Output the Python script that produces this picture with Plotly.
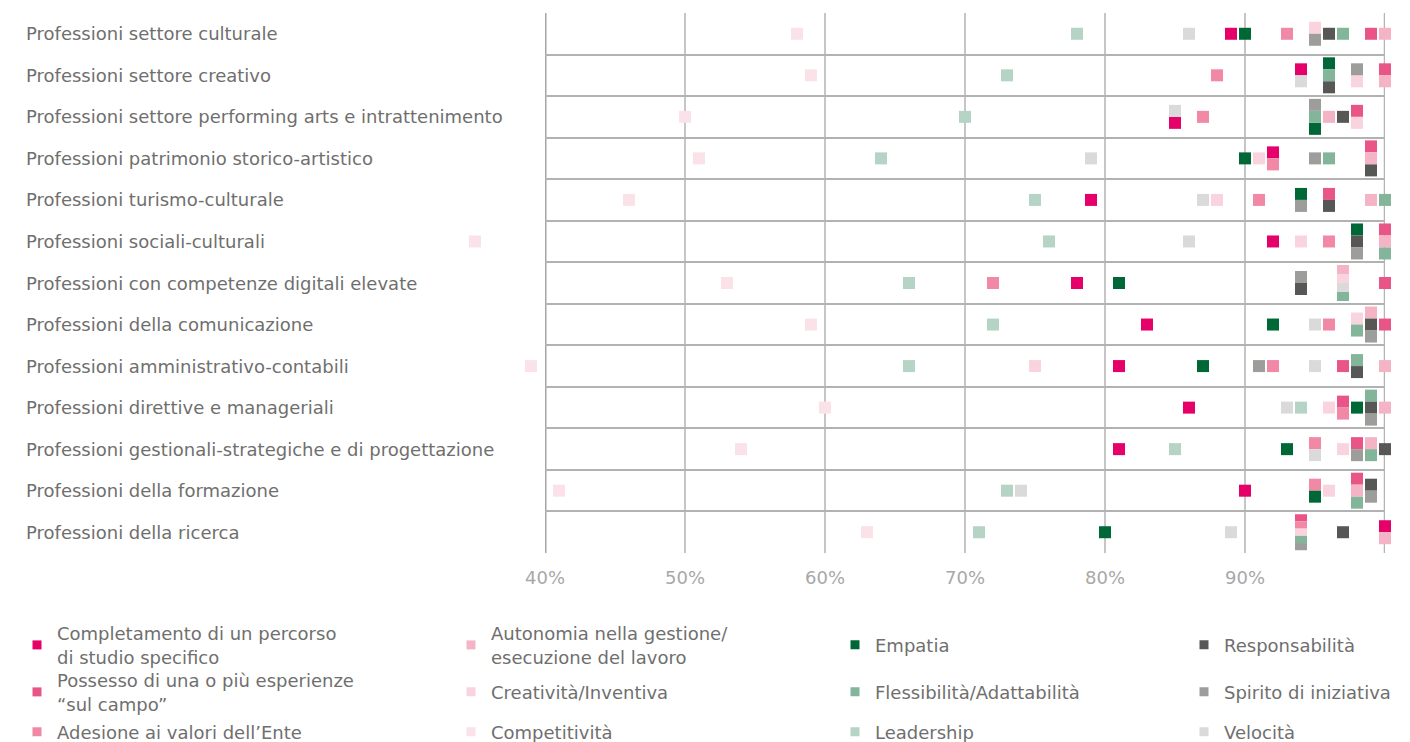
import plotly.graph_objects as go

# --- Categorie (righe) ---
professioni = [
    "Professioni settore culturale",
    "Professioni settore creativo",
    "Professioni settore performing arts e intrattenimento",
    "Professioni patrimonio storico-artistico",
    "Professioni turismo-culturale",
    "Professioni sociali-culturali",
    "Professioni con competenze digitali elevate",
    "Professioni della comunicazione",
    "Professioni amministrativo-contabili",
    "Professioni direttive e manageriali",
    "Professioni gestionali-strategiche e di progettazione",
    "Professioni della formazione",
    "Professioni della ricerca",
]

# --- Valori (%) per competenza, nello stesso ordine delle righe ---
completamento = [89, 94, 85, 92, 79, 92, 78, 83, 81, 86, 81, 90, 100]
possesso = [99, 100, 98, 99, 96, 100, 100, 100, 97, 97, 98, 98, 94]
adesione = [93, 88, 87, 92, 91, 96, 72, 96, 92, 97, 95, 95, 94]
autonomia = [100, 100, 96, 99, 99, 100, 97, 99, 100, 100, 99, 98, 100]
creativita = [95, 98, 98, 91, 88, 94, 97, 98, 75, 96, 97, 96, 94]
competitivita = [58, 59, 50, 51, 46, 35, 53, 59, 39, 60, 54, 41, 63]
empatia = [90, 96, 95, 90, 94, 98, 81, 92, 87, 98, 93, 95, 80]
flessibilita = [97, 96, 95, 96, 100, 100, 97, 98, 98, 99, 99, 98, 94]
leadership = [78, 73, 70, 64, 75, 76, 66, 72, 66, 94, 85, 73, 71]
responsabilita = [96, 96, 97, 99, 96, 98, 94, 99, 98, 99, 100, 99, 97]
spirito = [95, 98, 95, 95, 94, 98, 94, 99, 91, 99, 98, 99, 94]
velocita = [86, 94, 85, 79, 87, 86, 97, 95, 95, 93, 95, 74, 89]

# --- Tick asse x ---
x_tick_vals = [40, 50, 60, 70, 80, 90, 100]
x_tick_text = ["40%", "50%", "60%", "70%", "80%", "90%", "100%"]

# key, etichetta legenda, valori, colore
serie = [
    ("COMP", "Completamento di un percorso<br>di studio specifico", completamento, "#E6006A"),
    ("POSS", "Possesso di una o più esperienze<br>“sul campo”", possesso, "#EA5587"),
    ("ADES", "Adesione ai valori dell’Ente", adesione, "#F088A6"),
    ("AUTO", "Autonomia nella gestione/<br>esecuzione del lavoro", autonomia, "#F5B4C6"),
    ("CREA", "Creatività/Inventiva", creativita, "#F9D3DE"),
    ("CPTV", "Competitività", competitivita, "#FBE2E9"),
    ("EMPA", "Empatia", empatia, "#006837"),
    ("FLES", "Flessibilità/Adattabilità", flessibilita, "#82B59A"),
    ("LEAD", "Leadership", leadership, "#B5D4C5"),
    ("RESP", "Responsabilità", responsabilita, "#575756"),
    ("SPIR", "Spirito di iniziativa", spirito, "#9D9D9C"),
    ("VELO", "Velocità", velocita, "#DADADA"),
]

# ordine (dall'alto in basso) delle celle che condividono riga e valore
ordine_pile = {
    (0, 95): ["CREA", "SPIR"],
    (1, 94): ["COMP", "VELO"],
    (1, 96): ["EMPA", "FLES", "RESP"],
    (1, 98): ["SPIR", "CREA"],
    (1, 100): ["POSS", "AUTO"],
    (2, 85): ["VELO", "COMP"],
    (2, 95): ["SPIR", "FLES", "EMPA"],
    (2, 98): ["POSS", "CREA"],
    (3, 92): ["COMP", "ADES"],
    (3, 99): ["POSS", "AUTO", "RESP"],
    (4, 94): ["EMPA", "SPIR"],
    (4, 96): ["POSS", "RESP"],
    (5, 98): ["EMPA", "RESP", "SPIR"],
    (5, 100): ["POSS", "AUTO", "FLES"],
    (6, 94): ["SPIR", "RESP"],
    (6, 97): ["AUTO", "CREA", "VELO", "FLES"],
    (7, 98): ["CREA", "FLES"],
    (7, 99): ["AUTO", "RESP", "SPIR"],
    (8, 98): ["FLES", "RESP"],
    (9, 97): ["POSS", "ADES"],
    (9, 99): ["FLES", "RESP", "SPIR"],
    (10, 95): ["ADES", "VELO"],
    (10, 98): ["POSS", "SPIR"],
    (10, 99): ["AUTO", "FLES"],
    (11, 95): ["ADES", "EMPA"],
    (11, 98): ["POSS", "AUTO", "FLES"],
    (11, 99): ["RESP", "SPIR"],
    (12, 94): ["POSS", "ADES", "CREA", "FLES", "SPIR"],
    (12, 100): ["COMP", "AUTO"],
}

# --- Geometria (pixel) ---
W, H = 1410, 742
M_R, M_T, M_B = 25, 13, 189
AXIS_LEFT = 545                     # posizione del 40%
area_w = W - M_R                    # area di disegno a partire da x=0
plot_h = H - M_T - M_B
X_MIN, X_MAX = 40, 100
px_per_x = (area_w - AXIS_LEFT) / (X_MAX - X_MIN)
n_rows = len(professioni)
px_per_row = plot_h / n_rows
y_range = [n_rows - 0.5, -0.5]

CELL_PX = 12          # larghezza della cella
STACK_MAX_PX = 36     # altezza massima di una pila

TEXT = "#6F6F6E"
FONT = "DejaVu Sans"
FONT_SIZE = 18

# raggruppa le celle con stesso valore nella stessa riga
gruppi = {}
for key, _, vals, _ in serie:
    for r, v in enumerate(vals):
        gruppi.setdefault((r, v), []).append(key)


def posizione(key, r, v):
    membri = ordine_pile.get((r, v), gruppi[(r, v)])
    if sorted(membri) != sorted(gruppi[(r, v)]):
        membri = gruppi[(r, v)]
    n = len(membri)
    h = min(CELL_PX, STACK_MAX_PX / n)
    i = membri.index(key)
    off_px = (i - (n - 1) / 2) * h
    return r + off_px / px_per_row, h


fig = go.Figure()

# celle: segmenti orizzontali larghi CELL_PX, spessi quanto la loro quota di pila.
# Sono disegnate su assi gemelli (x2/y2) che coprono anche lo spazio a sinistra del 40%,
# cosi' anche i valori sotto il 40% restano visibili.
for key, label, vals, color in serie:
    ys, hs = [], []
    for r, v in enumerate(vals):
        y, h = posizione(key, r, v)
        ys.append(y)
        hs.append(h)
    fig.add_trace(go.Scatter(
        x=vals, y=ys, mode="markers",
        xaxis="x2", yaxis="y2",
        marker=dict(symbol="line-ew", size=CELL_PX / 1.4,
                    line=dict(color=color, width=hs)),
        cliponaxis=False,
        showlegend=False,
        name=label.replace("<br>", " "),
        hovertemplate="%{x}%<extra></extra>",
    ))

# legenda: 4 colonne x 3 righe (una legenda per voce)
leg_text_px = [57, 491, 875, 1224]
leg_row_px = [645, 692, 732]
layout_legends = {}
for idx, (key, label, vals, color) in enumerate(serie):
    col, row = divmod(idx, 3)
    lname = "legend" if idx == 0 else f"legend{idx + 1}"
    fig.add_trace(go.Scatter(
        x=[None], y=[None], mode="markers",
        marker=dict(symbol="square", size=9, color=color),
        name=label, legend=lname, showlegend=True, hoverinfo="skip",
    ))
    lx = leg_text_px[col] - 40
    ly = leg_row_px[row]
    layout_legends[lname] = dict(
        x=lx / area_w,
        y=(H - M_B - ly) / plot_h,
        xanchor="left", yanchor="middle",
        bgcolor="rgba(0,0,0,0)",
        font=dict(family=FONT, size=FONT_SIZE, color=TEXT),
        itemwidth=30,
        tracegroupgap=0,
    )

# etichette delle righe, allineate a sinistra
annotations = []
for r, name in enumerate(professioni):
    annotations.append(dict(
        x=24 / area_w, xref="paper", xanchor="left",
        y=r, yref="y", yanchor="middle",
        text=name, showarrow=False,
        font=dict(family=FONT, size=FONT_SIZE, color=TEXT),
    ))

# linee di bordo a 40% e 100%, centrate sui rispettivi valori
bordi = [
    dict(type="line", xref="x", yref="y", x0=X_MIN, x1=X_MIN,
         y0=y_range[0], y1=y_range[1], layer="below",
         line=dict(color="#A6A6A6", width=3)),
    dict(type="line", xref="x", yref="y", x0=X_MAX, x1=X_MAX,
         y0=y_range[0], y1=y_range[1], layer="below",
         line=dict(color="#B4B4B4", width=2.5)),
]

fig.update_layout(
    width=W, height=H,
    margin=dict(l=0, r=M_R, t=M_T, b=M_B, autoexpand=False),
    paper_bgcolor="white", plot_bgcolor="rgba(0,0,0,0)",
    annotations=annotations,
    shapes=bordi,
    font=dict(family=FONT, color=TEXT),
    xaxis=dict(
        domain=[AXIS_LEFT / area_w, 1], anchor="y",
        range=[X_MIN, X_MAX],
        tickvals=x_tick_vals, ticktext=x_tick_text,
        showgrid=True, gridcolor="#C6C6C6", gridwidth=1.5,
        zeroline=False, showline=False, ticks="",
        ticklabelstandoff=12,
        tickfont=dict(family=FONT, size=FONT_SIZE, color="#A8A8A8"),
        layer="below traces",
        fixedrange=True,
    ),
    yaxis=dict(
        domain=[0, 1], anchor="x",
        range=y_range,
        tickvals=[r + 0.5 for r in range(n_rows - 1)],
        showticklabels=False,
        showgrid=True, gridcolor="#B2B2B2", gridwidth=2,
        zeroline=False,
        showline=False, ticks="",
        layer="below traces",
        fixedrange=True,
    ),
    xaxis2=dict(
        domain=[0, 1], anchor="y2",
        range=[X_MIN - AXIS_LEFT / px_per_x, X_MAX],
        visible=False, fixedrange=True,
    ),
    yaxis2=dict(
        domain=[0, 1], anchor="x2",
        range=y_range,
        visible=False, fixedrange=True,
    ),
    **layout_legends,
)

fig.write_html("out.html")
